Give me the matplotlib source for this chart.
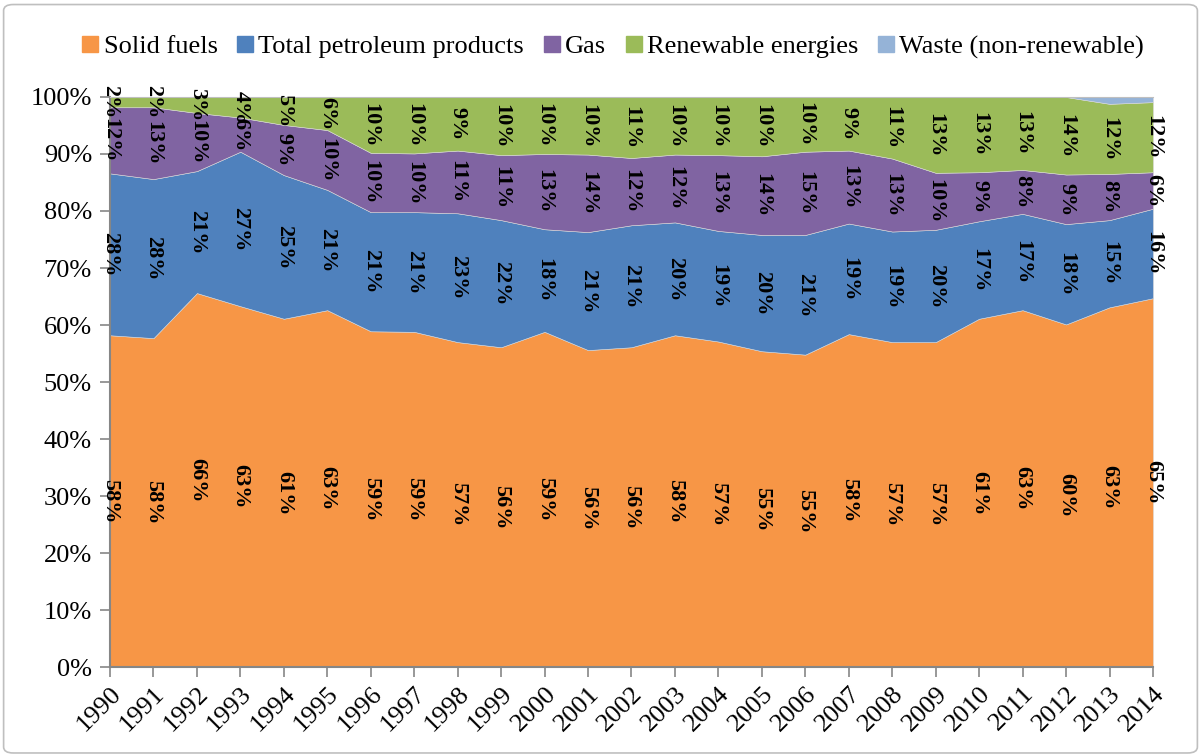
import matplotlib

matplotlib.use("Agg")
import matplotlib.pyplot as plt
from matplotlib.lines import Line2D
from matplotlib.patches import FancyBboxPatch

plt.rcParams["font.family"] = ["Liberation Serif", "DejaVu Serif"]

years = list(range(1990, 2015))
series_names = [
    "Solid fuels",
    "Total petroleum products",
    "Gas",
    "Renewable energies",
    "Waste (non-renewable)",
]
solid_fuels = [58.2, 57.7, 65.6, 63.3, 61.1, 62.6, 58.9, 58.8, 57.0, 56.1, 58.8, 55.6, 56.1,
               58.2, 57.1, 55.4, 54.8, 58.4, 57.0, 57.0, 61.1, 62.6, 60.1, 63.1, 64.7]
petroleum = [28.4, 27.9, 21.4, 27.1, 25.2, 21.1, 20.9, 21.0, 22.6, 22.3, 18.0, 20.7, 21.4,
             19.8, 19.4, 20.4, 21.0, 19.4, 19.4, 19.7, 17.1, 16.9, 17.6, 15.3, 15.7]
gas = [11.6, 12.6, 10.2, 6.0, 8.8, 10.5, 10.4, 10.3, 11.0, 11.4, 13.2, 13.6, 11.8,
       11.9, 13.3, 13.8, 14.6, 12.8, 12.8, 10.0, 8.6, 7.7, 8.7, 8.1, 6.4]
renewables = [1.8, 1.8, 2.8, 3.6, 4.9, 5.8, 9.8, 9.9, 9.4, 10.2, 10.0, 10.1, 10.7,
              10.1, 10.2, 10.4, 9.6, 9.4, 10.8, 13.3, 13.2, 12.8, 13.6, 12.3, 12.3]
waste = [0, 0, 0, 0, 0, 0, 0, 0, 0, 0, 0, 0, 0,
         0, 0, 0, 0, 0, 0, 0, 0, 0, 0, 1.2, 0.9]

colors = ["#F79646", "#4F81BD", "#8064A2", "#9BBB59", "#95B3D7"]

fig = plt.figure(figsize=(12.01, 7.56), dpi=100)
ax = fig.add_axes([0.0916, 0.1177, 0.8684, 0.754])

data = [solid_fuels, petroleum, gas, renewables, waste]
ax.stackplot(years, data, colors=colors, edgecolor="#d9d9d9", linewidth=0.4)

# percentage labels in the middle of each band (waste has none)
for i in range(len(years)):
    base = 0.0
    for s, values in enumerate(data):
        v = values[i]
        if s < 4:
            ax.text(years[i], base + v / 2, f"{v:.0f}%",
                    rotation=270, ha="center", va="center",
                    fontsize=16, fontweight="bold", color="black")
        base += v

ax.set_xlim(1990, 2014)
ax.set_ylim(0, 100)
ax.set_yticks(range(0, 101, 10))
ax.set_yticklabels([f"{t}%" for t in range(0, 101, 10)], fontsize=19)
ax.set_xticks(years)
ax.set_xticklabels([str(y) for y in years], rotation=45, ha="right",
                   rotation_mode="anchor", fontsize=19)
ax.tick_params(axis="both", colors="#868686", length=7, width=1.2,
               labelcolor="black")
ax.tick_params(axis="y", pad=6)
ax.tick_params(axis="x", pad=4)

for side in ["left", "bottom"]:
    ax.spines[side].set_color("#868686")
    ax.spines[side].set_linewidth(1.5)
ax.spines["top"].set_color("#bfbfbf")
ax.spines["right"].set_visible(False)

handles = [Line2D([], [], marker="s", linestyle="none", markersize=11,
                  markerfacecolor=c, markeredgecolor=c) for c in colors]
fig.legend(handles, series_names, loc="center", bbox_to_anchor=(0.509, 0.938),
           ncol=5, frameon=False, fontsize=19, handletextpad=0.05,
           columnspacing=0.6, handlelength=0.9)

# chart area border
border = FancyBboxPatch((0.003, 0.004), 0.994, 0.99, boxstyle="round,pad=0,rounding_size=0.008",
                        transform=fig.transFigure, fill=False, edgecolor="#bfbfbf",
                        linewidth=1.2)
fig.patches.append(border)

fig.savefig("out.png", dpi=100)
